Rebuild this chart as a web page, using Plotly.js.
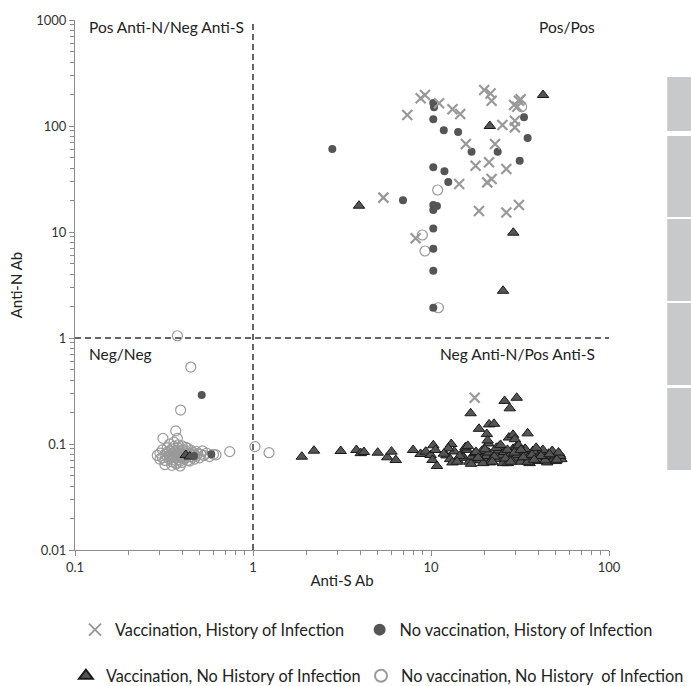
<!DOCTYPE html>
<html>
<head>
<meta charset="utf-8">
<script src="https://cdn.plot.ly/plotly-3.0.1.min.js"></script>
<style>html,body{margin:0;padding:0;background:#fff;}#chart{width:691px;height:686px;}</style>
</head>
<body>
<div id="chart"></div>
<script>
// Vaccination, History of Infection (crosses)
var vhX = [8.75,9.25,11.1,7.36,13.2,14.6,19.9,21.6,21.9,31.2,29.3,30.5,31.9,25.2,29.6,29.6,15.7,22.9,17.8,21.2,26.5,14.4,20.7,21.9,5.40,18.6,26.5,31.2,8.20,17.6];
var vhY = [182.5,196,164,127,144,130,219,203,173,173,158,152,179,102,112,97,67.6,67.6,42.2,45.5,39.3,28.4,29.4,31.6,21.1,15.8,15.3,18.0,8.72,0.273];

// No vaccination, History of Infection (filled dots)
var nvhX = [2.79,10.3,10.4,10.3,11.8,14.2,16.9,23.7,33.3,34.9,31.5,10.3,11.9,12.5,6.96,10.3,10.8,10.3,10.3,10.3,10.3,10.3,0.515,0.583,0.466];
var nvhY = [60.7,165,150,116,91,87.8,57.2,57.2,121,77,47.1,40.8,37.4,29.6,19.9,18.0,17.6,16.1,10.8,6.96,4.31,1.93,0.290,0.080,0.077];

// Vaccination, No History of Infection (triangles)
var vnhX = [42.6,21.4,3.94,29.0,25.4,0.419,0.441,
  1.88,2.20,3.11,3.81,4.03,4.20,5.02,5.68,6.00,6.34,7.93,8.74,9.34,9.96,10.3,10.6,10.2,10.8,13.0,
  16.7,25.9,30.3,27.7,18.6,21.2,22.6,20.6,27.4,28.9,29.6,34.9,21.0,
  12.2,12.8,13.5,14.1,14.8,15.2,15.9,16.4,17.0,17.6,
  18.1,18.7,19.3,19.9,20.5,21.1,21.8,22.4,23.0,23.7,
  24.3,25.0,25.8,26.5,27.3,28.1,28.9,29.8,30.6,31.5,
  32.4,33.3,34.3,35.3,36.3,37.4,38.5,39.6,40.8,42.0,
  43.2,44.5,45.8,47.1,48.5,49.9,51.4,52.9,54.0,12.5,
  13.2,14.5,15.6,16.8,17.9,19.0,20.1,21.4,22.7,24.0,
  25.4,26.9,28.5,30.1,31.9,33.8,35.8,37.9,40.1,42.5,
  45.0,47.6,50.4,53.2,11.8,16.1,19.6,23.3,27.0,31.1,
  35.0,39.0,43.8,48.0,52.0,14.0,18.4,22.1,26.2,29.4,
  33.0,36.9,41.5,46.3,50.9,20.8,24.6,28.0,32.0,38.0];
var vnhY = [196,100,17.7,9.85,2.79,0.0788,0.0762,
  0.0759,0.0865,0.0859,0.0878,0.082,0.084,0.0828,0.0749,0.0847,0.0706,0.0878,0.0805,0.0847,0.0788,0.0972,0.0878,0.0706,0.062,0.100,
  0.195,0.255,0.273,0.217,0.139,0.153,0.155,0.124,0.115,0.122,0.111,0.126,0.101,
  0.078,0.072,0.085,0.070,0.080,0.074,0.088,0.068,0.076,0.082,
  0.071,0.079,0.086,0.073,0.077,0.083,0.069,0.075,0.080,0.087,
  0.072,0.078,0.084,0.070,0.076,0.081,0.090,0.073,0.079,0.085,
  0.071,0.077,0.082,0.074,0.080,0.086,0.072,0.078,0.083,0.075,
  0.079,0.073,0.081,0.076,0.070,0.078,0.074,0.080,0.072,0.091,
  0.067,0.077,0.093,0.065,0.084,0.070,0.089,0.067,0.076,0.094,
  0.066,0.088,0.069,0.094,0.068,0.090,0.066,0.085,0.069,0.088,
  0.067,0.084,0.069,0.077,0.081,0.096,0.066,0.092,0.066,0.097,
  0.068,0.092,0.070,0.086,0.083,0.068,0.074,0.068,0.073,0.083,
  0.075,0.079,0.077,0.080,0.071,0.108,0.098,0.068,0.088,0.071];

// No vaccination, No History of Infection (open circles)
var nvnhX = [0.376,0.447,0.392,0.368,0.312,0.376,0.740,1.026,1.23,10.9,8.94,9.25,11.0,32.3,
  0.29,0.30,0.31,0.31,0.32,0.32,0.33,0.33,0.33,0.34,
  0.34,0.34,0.35,0.35,0.35,0.35,0.36,0.36,0.36,0.36,
  0.37,0.37,0.37,0.37,0.38,0.38,0.38,0.38,0.39,0.39,
  0.39,0.39,0.40,0.40,0.40,0.40,0.41,0.41,0.41,0.42,
  0.42,0.42,0.43,0.43,0.43,0.44,0.44,0.44,0.45,0.45,
  0.46,0.46,0.47,0.47,0.48,0.48,0.49,0.50,0.51,0.52,
  0.53,0.55,0.57,0.60,0.62,0.34,0.36,0.38,0.40,0.42,
  0.30,0.32,0.35,0.37,0.39];
var nvnhY = [1.05,0.532,0.209,0.133,0.113,0.113,0.0847,0.0944,0.0828,24.9,9.37,6.62,1.93,152,
  0.078,0.082,0.074,0.088,0.080,0.070,0.084,0.076,0.092,0.079,
  0.072,0.086,0.081,0.075,0.068,0.090,0.083,0.077,0.071,0.095,
  0.080,0.074,0.087,0.066,0.082,0.078,0.071,0.092,0.085,0.076,
  0.069,0.081,0.079,0.073,0.088,0.067,0.083,0.077,0.072,0.080,
  0.086,0.074,0.078,0.070,0.091,0.082,0.076,0.069,0.080,0.087,
  0.075,0.083,0.079,0.072,0.085,0.077,0.081,0.074,0.080,0.086,
  0.078,0.082,0.076,0.080,0.079,0.100,0.104,0.098,0.096,0.093,
  0.072,0.064,0.063,0.065,0.062];

var xTicks = [0.1, 1, 10, 100];
var xTickText = ['0.1', '1', '10', '100'];
var yTicks = [0.01, 0.1, 1, 10, 100, 1000];
var yTickText = ['0.01', '0.1', '1', '10', '100', '1000'];

var FONT = 'Lato, "Open Sans", sans-serif';

var traces = [
  {x: nvnhX, y: nvnhY, type: 'scatter', mode: 'markers', name: 'No vaccination, No History  of Infection', legend: 'legend4',
   marker: {symbol: 'circle-open', size: 10, color: '#9a9a9a', line: {width: 1.2, color: '#9a9a9a'}}},
  {x: vnhX, y: vnhY, type: 'scatter', mode: 'markers', name: 'Vaccination, No History of Infection', legend: 'legend3',
   marker: {symbol: 'triangle-up', size: 10, color: '#555555', line: {width: 1, color: '#1a1a1a'}}},
  {x: nvhX, y: nvhY, type: 'scatter', mode: 'markers', name: 'No vaccination, History of Infection', legend: 'legend2',
   marker: {symbol: 'circle', size: 8, color: '#555555', line: {width: 0}}},
  {x: vhX, y: vhY, type: 'scatter', mode: 'markers', name: 'Vaccination, History of Infection', legend: 'legend',
   marker: {symbol: 'x-thin-open', size: 10, color: '#999999', line: {width: 2.2, color: '#999999'}}}
];

var axisCommon = {
  type: 'log', showgrid: false, zeroline: false, showline: true, linecolor: '#8c8c8c', linewidth: 1,
  ticks: 'outside', ticklen: 5, tickcolor: '#8c8c8c', tickwidth: 1,
  tickfont: {family: FONT, size: 13, color: '#333'},
  minor: {ticks: 'outside', ticklen: 4, tickcolor: '#8c8c8c', dtick: 'D1', showgrid: false}
};

var grayBars = [[0.8925,0.7906],[0.7811,0.6283],[0.6245,0.4698],[0.4660,0.3113],[0.3057,0.1509]];
var shapes = [
  {type: 'line', xref: 'x', yref: 'paper', x0: 1, x1: 1, y0: 0, y1: 1, line: {color: '#333', width: 1.5, dash: '6px,4px'}},
  {type: 'line', xref: 'paper', yref: 'y', x0: 0, x1: 1, y0: 1, y1: 1, line: {color: '#333', width: 1.5, dash: '6px,4px'}}
];
grayBars.forEach(function (b) {
  shapes.push({type: 'rect', xref: 'paper', yref: 'paper', x0: 1.109, x1: 1.2, y0: b[1], y1: b[0], fillcolor: '#c8c9cb', line: {width: 0}, layer: 'below'});
});

function quad(text, x, xanchor, y) {
  return {text: text, xref: 'paper', yref: 'paper', x: x, y: y, xanchor: xanchor, yanchor: 'middle', showarrow: false,
          font: {family: FONT, size: 15.5, color: '#222'}};
}

function leg(x, y) {
  return {orientation: 'h', x: x, y: y, xanchor: 'left', yanchor: 'middle', itemsizing: 'constant',
          bgcolor: 'rgba(0,0,0,0)', borderwidth: 0, font: {family: FONT, size: 16.3, color: '#222'}};
}

var layout = {
  width: 691, height: 686,
  margin: {l: 75, r: 82, t: 20, b: 136, autoexpand: false},
  paper_bgcolor: '#fff', plot_bgcolor: '#fff',
  font: {family: FONT, color: '#222'},
  xaxis: Object.assign({}, axisCommon, {range: [-1, 2], tickvals: xTicks, ticktext: xTickText,
    title: {text: 'Anti-S Ab', font: {family: FONT, size: 15, color: '#222'}, standoff: 1}}),
  yaxis: Object.assign({}, axisCommon, {range: [-2, 3], tickvals: yTicks, ticktext: yTickText,
    title: {text: 'Anti-N Ab', font: {family: FONT, size: 15, color: '#222'}, standoff: 9}}),
  shapes: shapes,
  annotations: [
    quad('Pos Anti-N/Neg Anti-S', 0.022, 'left', 0.987),
    quad('Pos/Pos', 0.978, 'right', 0.987),
    quad('Neg/Neg', 0.022, 'left', 0.370),
    quad('Neg Anti-N/Pos Anti-S', 0.978, 'right', 0.370)
  ],
  legend: leg(0.0, -0.151),
  legend2: leg(0.533, -0.151),
  legend3: leg(-0.017, -0.238),
  legend4: leg(0.5356, -0.238),
  showlegend: true
};

Plotly.newPlot('chart', traces, layout, {displayModeBar: false, staticPlot: true});
</script>
</body>
</html>
